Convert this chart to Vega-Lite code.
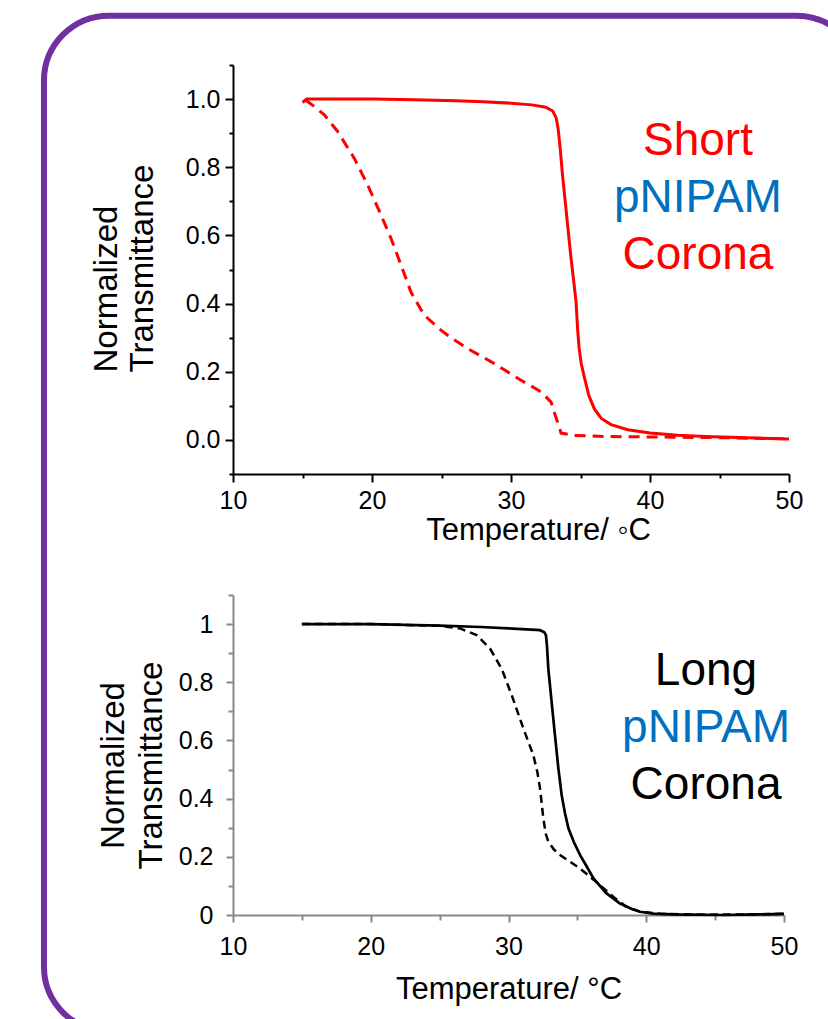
{
  "$schema": "https://vega.github.io/schema/vega-lite/v6.json",
  "padding": {"left": 40, "top": 12, "right": 0, "bottom": 0},
  "bounds": "flush",
  "spacing": 121,
  "config": {
    "view": {"stroke": null},
    "font": "Liberation Sans",
    "axis": {"grid": false, "labelFont": "Liberation Sans", "titleFont": "Liberation Sans", "titleFontWeight": "normal", "labelFlush": false, "labelOverlap": false}
  },
  "datasets": {
    "shortCorona": [
      {"run": "solid", "T": 15.0, "v": 0.99}, {"run": "solid", "T": 15.3, "v": 1.0}, {"run": "solid", "T": 17, "v": 1.0}, {"run": "solid", "T": 20, "v": 1.0},
      {"run": "solid", "T": 23, "v": 0.998}, {"run": "solid", "T": 26, "v": 0.995}, {"run": "solid", "T": 28, "v": 0.992}, {"run": "solid", "T": 30, "v": 0.988},
      {"run": "solid", "T": 31.5, "v": 0.983}, {"run": "solid", "T": 32.5, "v": 0.976}, {"run": "solid", "T": 33.0, "v": 0.965}, {"run": "solid", "T": 33.25, "v": 0.945},
      {"run": "solid", "T": 33.4, "v": 0.91}, {"run": "solid", "T": 33.55, "v": 0.85}, {"run": "solid", "T": 33.7, "v": 0.78}, {"run": "solid", "T": 33.9, "v": 0.7},
      {"run": "solid", "T": 34.1, "v": 0.62}, {"run": "solid", "T": 34.3, "v": 0.54}, {"run": "solid", "T": 34.5, "v": 0.47}, {"run": "solid", "T": 34.68, "v": 0.405},
      {"run": "solid", "T": 34.8, "v": 0.32}, {"run": "solid", "T": 34.9, "v": 0.27}, {"run": "solid", "T": 35.05, "v": 0.225}, {"run": "solid", "T": 35.27, "v": 0.185},
      {"run": "solid", "T": 35.6, "v": 0.13}, {"run": "solid", "T": 36.0, "v": 0.091}, {"run": "solid", "T": 36.5, "v": 0.063}, {"run": "solid", "T": 37.2, "v": 0.045},
      {"run": "solid", "T": 38.4, "v": 0.03}, {"run": "solid", "T": 40, "v": 0.02}, {"run": "solid", "T": 42, "v": 0.014}, {"run": "solid", "T": 44, "v": 0.01},
      {"run": "solid", "T": 47, "v": 0.006}, {"run": "solid", "T": 50, "v": 0.003},
      {"run": "dashed", "T": 15.2, "v": 0.998}, {"run": "dashed", "T": 15.85, "v": 0.978}, {"run": "dashed", "T": 16.57, "v": 0.954}, {"run": "dashed", "T": 17.53, "v": 0.905},
      {"run": "dashed", "T": 18.73, "v": 0.826}, {"run": "dashed", "T": 19.69, "v": 0.748}, {"run": "dashed", "T": 20.65, "v": 0.66}, {"run": "dashed", "T": 21.37, "v": 0.591},
      {"run": "dashed", "T": 22.09, "v": 0.513}, {"run": "dashed", "T": 22.8, "v": 0.434}, {"run": "dashed", "T": 23.76, "v": 0.366}, {"run": "dashed", "T": 24.96, "v": 0.322},
      {"run": "dashed", "T": 25.68, "v": 0.3}, {"run": "dashed", "T": 26.88, "v": 0.268}, {"run": "dashed", "T": 28.8, "v": 0.224}, {"run": "dashed", "T": 30.72, "v": 0.175},
      {"run": "dashed", "T": 32.0, "v": 0.145}, {"run": "dashed", "T": 32.4, "v": 0.131}, {"run": "dashed", "T": 32.88, "v": 0.111}, {"run": "dashed", "T": 33.2, "v": 0.07},
      {"run": "dashed", "T": 33.48, "v": 0.037}, {"run": "dashed", "T": 33.6, "v": 0.02}, {"run": "dashed", "T": 34.55, "v": 0.013}, {"run": "dashed", "T": 36.95, "v": 0.01},
      {"run": "dashed", "T": 41.7, "v": 0.008}, {"run": "dashed", "T": 46, "v": 0.006}, {"run": "dashed", "T": 50, "v": 0.003}
    ],
    "longCorona": [
      {"run": "solid", "T": 15, "v": 1.0}, {"run": "solid", "T": 20, "v": 1.0}, {"run": "solid", "T": 25, "v": 0.995}, {"run": "solid", "T": 28, "v": 0.99},
      {"run": "solid", "T": 30, "v": 0.985}, {"run": "solid", "T": 32.29, "v": 0.979}, {"run": "solid", "T": 32.6, "v": 0.972}, {"run": "solid", "T": 32.72, "v": 0.962},
      {"run": "solid", "T": 32.8, "v": 0.92}, {"run": "solid", "T": 32.89, "v": 0.847}, {"run": "solid", "T": 33.13, "v": 0.733}, {"run": "solid", "T": 33.37, "v": 0.619},
      {"run": "solid", "T": 33.62, "v": 0.504}, {"run": "solid", "T": 33.86, "v": 0.412}, {"run": "solid", "T": 34.1, "v": 0.35}, {"run": "solid", "T": 34.35, "v": 0.298},
      {"run": "solid", "T": 34.75, "v": 0.25}, {"run": "solid", "T": 35.2, "v": 0.206}, {"run": "solid", "T": 35.7, "v": 0.165}, {"run": "solid", "T": 36.17, "v": 0.126},
      {"run": "solid", "T": 37.1, "v": 0.075}, {"run": "solid", "T": 38.07, "v": 0.04}, {"run": "solid", "T": 39.0, "v": 0.02}, {"run": "solid", "T": 39.55, "v": 0.011},
      {"run": "solid", "T": 40.5, "v": 0.005}, {"run": "solid", "T": 41.97, "v": 0.002}, {"run": "solid", "T": 45.6, "v": 0.0}, {"run": "solid", "T": 48, "v": 0.002},
      {"run": "solid", "T": 50, "v": 0.004},
      {"run": "dashed", "T": 15, "v": 1.0}, {"run": "dashed", "T": 20, "v": 1.0}, {"run": "dashed", "T": 25, "v": 0.994}, {"run": "dashed", "T": 26.48, "v": 0.985},
      {"run": "dashed", "T": 27.69, "v": 0.962}, {"run": "dashed", "T": 28.66, "v": 0.916}, {"run": "dashed", "T": 29.5, "v": 0.847}, {"run": "dashed", "T": 30.23, "v": 0.756},
      {"run": "dashed", "T": 31.08, "v": 0.641}, {"run": "dashed", "T": 31.8, "v": 0.55}, {"run": "dashed", "T": 32.1, "v": 0.49}, {"run": "dashed", "T": 32.29, "v": 0.435},
      {"run": "dashed", "T": 32.53, "v": 0.332}, {"run": "dashed", "T": 32.7, "v": 0.28}, {"run": "dashed", "T": 32.89, "v": 0.252}, {"run": "dashed", "T": 33.3, "v": 0.225},
      {"run": "dashed", "T": 33.74, "v": 0.206}, {"run": "dashed", "T": 35.19, "v": 0.16}, {"run": "dashed", "T": 36.64, "v": 0.103}, {"run": "dashed", "T": 37.6, "v": 0.063},
      {"run": "dashed", "T": 38.5, "v": 0.03}, {"run": "dashed", "T": 39.5, "v": 0.012}, {"run": "dashed", "T": 41, "v": 0.004}, {"run": "dashed", "T": 44, "v": 0.001},
      {"run": "dashed", "T": 47, "v": 0.002}, {"run": "dashed", "T": 50, "v": 0.004}
    ]
  },
  "vconcat": [
    {
      "width": 556,
      "height": 409,
      "layer": [
        {
          "data": {"name": "shortCorona"},
          "transform": [{"filter": "datum.run === 'solid'"}],
          "mark": {"type": "line", "color": "#FF0000", "strokeWidth": 3},
          "encoding": {
            "x": {"field": "T", "type": "quantitative",
              "scale": {"domain": [10, 50], "nice": false, "zero": false},
              "axis": {
                "values": [10, 15, 20, 25, 30, 35, 40, 45, 50],
                "tickCount": 30,
                "labelExpr": "datum.value % 10 === 0 ? datum.label : ''",
                "labelOverlap": false,
                "tickSize": 8,
                "tickDash": {"condition": {"test": "datum.value % 10 !== 0", "value": [4, 30]}, "value": [1, 0]},
                "domainColor": "#000000", "domainWidth": 2, "tickColor": "#000000", "tickWidth": 2,
                "labelFontSize": 25, "labelColor": "#000000", "labelPadding": 6,
                "title": "Temperature/ ◦C", "titleFontSize": 31, "titleColor": "#000000",
                "titleX": 305, "titleY": 65, "titleBaseline": "alphabetic", "titleAlign": "center"
              }
            },
            "y": {"field": "v", "type": "quantitative",
              "scale": {"domain": [-0.1, 1.1], "nice": false, "zero": false},
              "axis": {
                "values": [0, 0.2, 0.4, 0.6, 0.8, 1.0, -0.1, 0.1, 0.3, 0.5, 0.7, 0.9, 1.1],
                "tickCount": 30,
                "labelExpr": "indexof([0, 0.2, 0.4, 0.6, 0.8, 1], datum.value) >= 0 ? format(datum.value, '.1f') : ''",
                "labelOverlap": false,
                "tickSize": 8,
                "tickDash": {"condition": {"test": "indexof([0, 0.2, 0.4, 0.6, 0.8, 1], datum.value) < 0", "value": [4, 30]}, "value": [1, 0]},
                "domainColor": "#000000", "domainWidth": 2, "tickColor": "#000000", "tickWidth": 2,
                "labelFontSize": 25, "labelColor": "#000000", "labelPadding": 5,
                "title": ["Normalized", "Transmittance"], "titleFontSize": 33, "titleLineHeight": 36, "titleColor": "#000000",
                "titleAngle": -90, "titleAlign": "left", "titleBaseline": "alphabetic", "titleX": -117, "titleY": 307
              }
            }
          }
        },
        {
          "data": {"name": "shortCorona"},
          "transform": [{"filter": "datum.run === 'dashed'"}],
          "mark": {"type": "line", "color": "#FF0000", "strokeWidth": 3, "strokeDash": [11, 7]},
          "encoding": {
            "x": {"field": "T", "type": "quantitative"},
            "y": {"field": "v", "type": "quantitative"}
          }
        },
        {
          "data": {"values": [{}]},
          "mark": {"type": "rect", "filled": false, "stroke": "#7030A0", "strokeWidth": 6, "cornerRadius": 65, "clip": false},
          "encoding": {
            "x": {"datum": -3.6, "type": "quantitative"},
            "x2": {"datum": 55.2},
            "y": {"datum": 1.2447, "type": "quantitative"},
            "y2": {"datum": -1.736}
          }
        },
        {
          "data": {"values": [{}]},
          "mark": {"type": "text", "text": "Short", "color": "#FF0000", "fontSize": 46, "font": "Liberation Sans", "align": "center", "baseline": "alphabetic"},
          "encoding": {"x": {"datum": 43.45, "type": "quantitative"}, "y": {"datum": 0.837, "type": "quantitative"}}
        },
        {
          "data": {"values": [{}]},
          "mark": {"type": "text", "text": "pNIPAM", "color": "#0070C0", "fontSize": 46, "font": "Liberation Sans", "align": "center", "baseline": "alphabetic"},
          "encoding": {"x": {"datum": 43.45, "type": "quantitative"}, "y": {"datum": 0.669, "type": "quantitative"}}
        },
        {
          "data": {"values": [{}]},
          "mark": {"type": "text", "text": "Corona", "color": "#FF0000", "fontSize": 46, "font": "Liberation Sans", "align": "center", "baseline": "alphabetic"},
          "encoding": {"x": {"datum": 43.45, "type": "quantitative"}, "y": {"datum": 0.502, "type": "quantitative"}}
        }
      ]
    },
    {
      "width": 551,
      "height": 320,
      "layer": [
        {
          "data": {"name": "longCorona"},
          "transform": [{"filter": "datum.run === 'solid'"}],
          "mark": {"type": "line", "color": "#000000", "strokeWidth": 2.7},
          "encoding": {
            "x": {"field": "T", "type": "quantitative",
              "scale": {"domain": [10, 50], "nice": false, "zero": false},
              "axis": {
                "values": [10, 15, 20, 25, 30, 35, 40, 45, 50],
                "tickCount": 30,
                "labelExpr": "datum.value % 10 === 0 ? datum.label : ''",
                "labelOverlap": false,
                "tickSize": 7,
                "tickDash": {"condition": {"test": "datum.value % 10 !== 0", "value": [5, 30]}, "value": [1, 0]},
                "domainColor": "#888888", "domainWidth": 2, "tickColor": "#888888", "tickWidth": 2,
                "labelFontSize": 25, "labelColor": "#000000", "labelPadding": 12,
                "title": "Temperature/ °C", "titleFontSize": 31, "titleColor": "#000000",
                "titleY": 83, "titleBaseline": "alphabetic"
              }
            },
            "y": {"field": "v", "type": "quantitative",
              "scale": {"domain": [0, 1.1], "nice": false, "zero": false},
              "axis": {
                "values": [0, 0.2, 0.4, 0.6, 0.8, 1.0, 0.1, 0.3, 0.5, 0.7, 0.9, 1.1],
                "tickCount": 30,
                "labelExpr": "indexof([0, 0.2, 0.4, 0.6, 0.8, 1], datum.value) >= 0 ? format(datum.value, '~g') : ''",
                "labelOverlap": false,
                "tickSize": 7,
                "tickDash": {"condition": {"test": "indexof([0, 0.2, 0.4, 0.6, 0.8, 1], datum.value) < 0", "value": [5, 30]}, "value": [1, 0]},
                "domainColor": "#888888", "domainWidth": 2, "tickColor": "#888888", "tickWidth": 2,
                "labelFontSize": 25, "labelColor": "#000000", "labelPadding": 13,
                "title": ["Normalized", "Transmittance"], "titleFontSize": 33, "titleLineHeight": 38, "titleColor": "#000000",
                "titleAngle": -90, "titleAlign": "center", "titleBaseline": "alphabetic", "titleX": -110, "titleY": 170
              }
            }
          }
        },
        {
          "data": {"name": "longCorona"},
          "transform": [{"filter": "datum.run === 'dashed'"}],
          "mark": {"type": "line", "color": "#000000", "strokeWidth": 2.5, "strokeDash": [8, 5]},
          "encoding": {
            "x": {"field": "T", "type": "quantitative"},
            "y": {"field": "v", "type": "quantitative"}
          }
        },
        {
          "data": {"values": [{}]},
          "mark": {"type": "text", "text": "Long", "color": "#000000", "fontSize": 46, "font": "Liberation Sans", "align": "center", "baseline": "alphabetic"},
          "encoding": {"x": {"datum": 44.34, "type": "quantitative"}, "y": {"datum": 0.791, "type": "quantitative"}}
        },
        {
          "data": {"values": [{}]},
          "mark": {"type": "text", "text": "pNIPAM", "color": "#0070C0", "fontSize": 46, "font": "Liberation Sans", "align": "center", "baseline": "alphabetic"},
          "encoding": {"x": {"datum": 44.34, "type": "quantitative"}, "y": {"datum": 0.596, "type": "quantitative"}}
        },
        {
          "data": {"values": [{}]},
          "mark": {"type": "text", "text": "Corona", "color": "#000000", "fontSize": 46, "font": "Liberation Sans", "align": "center", "baseline": "alphabetic"},
          "encoding": {"x": {"datum": 44.34, "type": "quantitative"}, "y": {"datum": 0.4, "type": "quantitative"}}
        }
      ]
    }
  ]
}
